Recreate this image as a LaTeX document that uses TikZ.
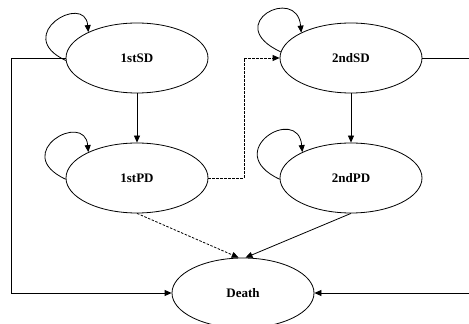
\documentclass[tikz,border=0pt]{standalone}
\usepackage{fontspec}
\setmainfont{Liberation Serif}
\usetikzlibrary{arrows.meta,shapes.geometric}
\begin{document}
\begin{tikzpicture}[x=1pt,y=1pt,
  state/.style={draw, ellipse, line width=0.8pt, minimum width=142pt, minimum height=70pt, inner sep=0pt, font=\fontsize{13}{15}\selectfont\bfseries},
  conn/.style={line width=0.8pt, -{Triangle[length=7pt,width=6pt]}},
  dconn/.style={conn, dash pattern=on 2.5pt off 1.5pt}]
\useasboundingbox (0,0) rectangle (469,324);
\node[state] (sd1) at (137,266) {1stSD};
\node[state] (sd2) at (351,266) {2ndSD};
\node[state] (pd1) at (137,146) {1stPD};
\node[state] (pd2) at (351,146) {2ndPD};
\node[state] (death) at (243,31) {Death};
\coordinate (lc) at (11,266);
\coordinate (rc) at (473,266);
\coordinate (dm) at (244,146);
% self loops
\draw[conn] (sd1.182) .. controls +(155:60) and +(95:40) .. (sd1.152);
\draw[conn] (sd2.175) .. controls +(155:66) and +(95:48) .. (sd2.153);
\draw[conn] (pd1.181) .. controls +(155:62) and +(95:42) .. (pd1.152);
\draw[conn] (pd2.181) .. controls +(155:66) and +(95:48) .. (pd2.152);
% vertical transitions
\draw[conn] (sd1.south) -- (pd1.north);
\draw[conn] (sd2.south) -- (pd2.north);
% dashed transitions
\draw[dconn] (pd1.east) -- (dm) |- (sd2.west);
\draw[dconn] (pd1.south) -- (death.97);
\draw[conn] (pd2.south) -- (death.86);
% death transitions
\draw[conn] (sd1.west) -- (lc) |- (death.west);
\draw[conn] (sd2.east) -- (rc) |- (death.east);
\end{tikzpicture}
\end{document}
